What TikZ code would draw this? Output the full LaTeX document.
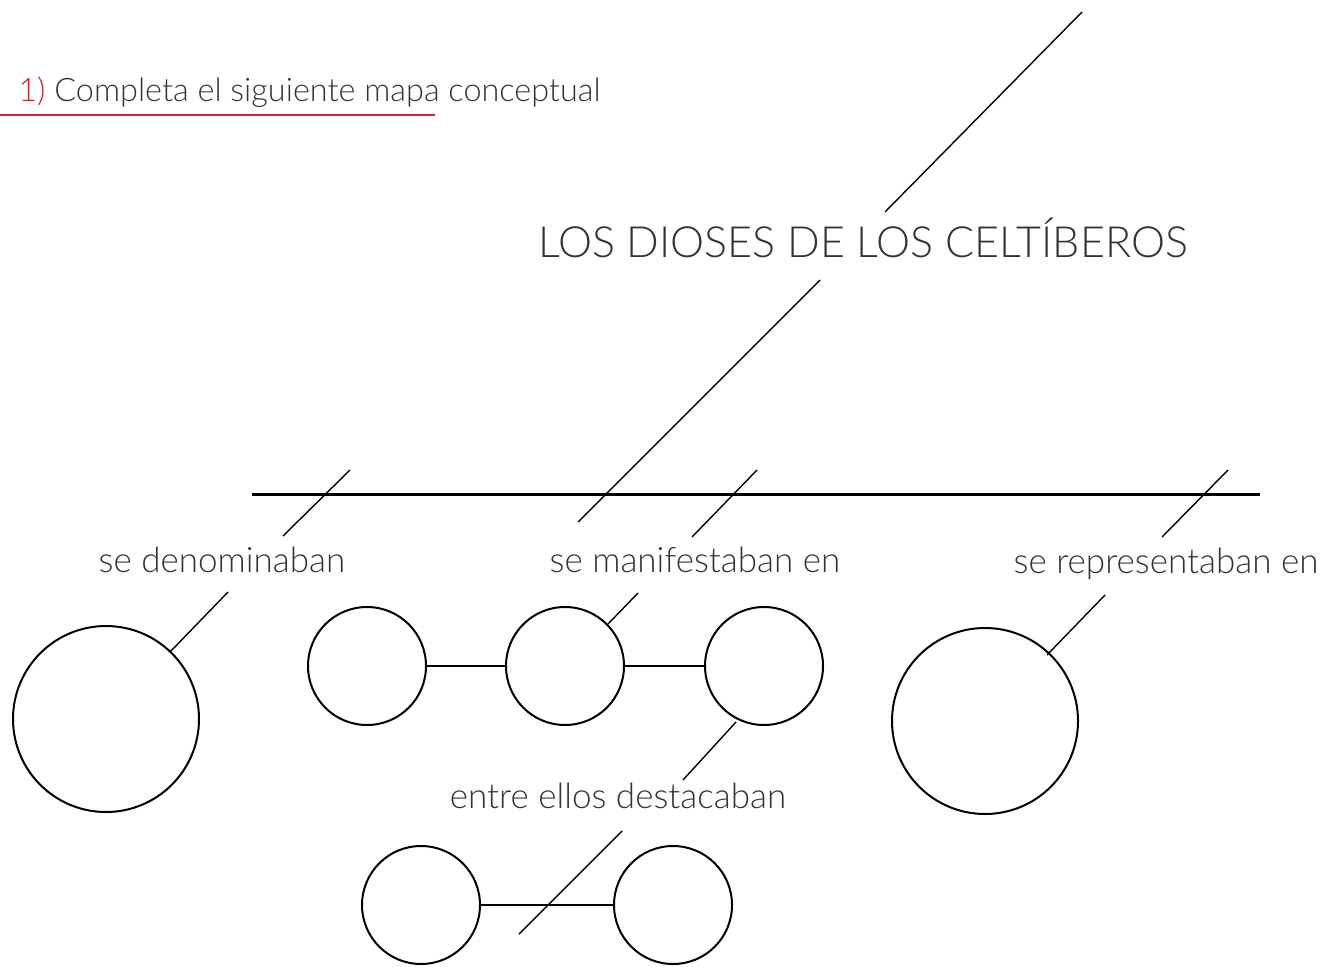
\documentclass[tikz,border=0pt]{standalone}
\usepackage{fontspec}
\setmainfont{Lato Light}
\newlength{\du}
\setlength{\du}{0.5pt}
\definecolor{headred}{rgb}{0.780000, 0.160000, 0.200000}
\definecolor{headgray}{rgb}{0.200000, 0.200000, 0.200000}
\tikzset{
  blank/.style={circle, draw=black, line width=2\du, inner sep=0pt},
  link/.style={line width=2.2\du},
  slash/.style={line width=1.4\du},
  label/.style={anchor=base, font=\fontsize{17.5}{20}\selectfont, text=headgray}
}
\begin{document}
\begin{tikzpicture}
\pgftransformxscale{1.000000}
\pgftransformyscale{-1.000000}
\useasboundingbox (0\du,0\du) rectangle (1325\du,967\du);
% header
\node[anchor=base west, inner sep=0pt, font=\fontsize{16.2}{19}\selectfont] (head) at (18\du,102\du)
  {\textcolor{headred}{1)} \textcolor{headgray}{Completa el siguiente mapa conceptual}};
\draw[headred, line width=1.4\du] (0\du,115\du)--(435\du,115\du);
% title
\node[anchor=base, inner sep=0pt, font=\fontsize{21.5}{24}\selectfont, text=headgray] (title) at (863\du,258\du)
  {LOS DIOSES DE LOS CELTÍBEROS};
\coordinate (t1) at (1082\du,12\du);
\coordinate (t2) at (885\du,212\du);
\draw[slash] (t1)--(t2);
\coordinate (t3) at (820\du,280\du);
\coordinate (t4) at (578\du,522\du);
\draw[slash] (t3)--(t4);
% bar
\coordinate (barl) at (252\du,494\du);
\coordinate (barr) at (1260\du,494\du);
\draw[line width=3\du] (barl)--(barr);
\coordinate (s1a) at (350\du,470\du);
\coordinate (s1b) at (283\du,536\du);
\draw[slash] (s1a)--(s1b);
\coordinate (s2a) at (757\du,470\du);
\coordinate (s2b) at (692\du,537\du);
\draw[slash] (s2a)--(s2b);
\coordinate (s3a) at (1228\du,470\du);
\coordinate (s3b) at (1162\du,537\du);
\draw[slash] (s3a)--(s3b);
% labels
\node[label] (den) at (222\du,572\du) {se denominaban};
\node[label] (man) at (695\du,572\du) {se manifestaban en};
\node[label] (rep) at (1166\du,573\du) {se representaban en};
\node[label] (des) at (618\du,808\du) {entre ellos destacaban};
% circles
\node[blank, minimum size=186\du] (cden) at (106\du,719\du) {};
\node[blank, minimum size=118\du] (cm1) at (367\du,666\du) {};
\node[blank, minimum size=118\du] (cm2) at (565\du,666\du) {};
\node[blank, minimum size=118\du] (cm3) at (764\du,666\du) {};
\node[blank, minimum size=186\du] (crep) at (985\du,721\du) {};
\node[blank, minimum size=118\du] (cd1) at (421\du,905\du) {};
\node[blank, minimum size=118\du] (cd2) at (673\du,905\du) {};
\draw[link] (cm1)--(cm2);
\draw[link] (cm2)--(cm3);
\draw[link] (cd1)--(cd2);
% pointers
\coordinate (p1a) at (228\du,592\du);
\coordinate (p1b) at (170\du,652\du);
\draw[slash] (p1a)--(p1b);
\coordinate (p2a) at (638\du,593\du);
\coordinate (p2b) at (608\du,624\du);
\draw[slash] (p2a)--(p2b);
\coordinate (p3a) at (736\du,722\du);
\coordinate (p3b) at (683\du,780\du);
\draw[slash] (p3a)--(p3b);
\coordinate (p4a) at (1105\du,595\du);
\coordinate (p4b) at (1047\du,655\du);
\draw[slash] (p4a)--(p4b);
\coordinate (p5a) at (622\du,831\du);
\coordinate (p5b) at (519\du,934\du);
\draw[slash] (p5a)--(p5b);
\end{tikzpicture}
\end{document}
